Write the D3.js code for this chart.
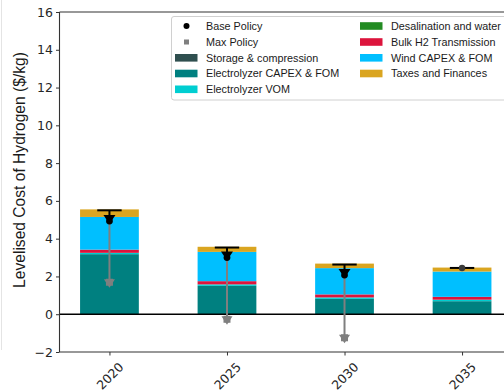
<!DOCTYPE html>
<html>
<head>
<meta charset="utf-8">
<script src="https://cdn.jsdelivr.net/npm/d3@7"></script>
<style>
  html, body { margin: 0; padding: 0; background: #fff; }
  svg { display: block; }
</style>
</head>
<body>
<svg id="chart" width="504" height="392"></svg>
<script>
// Years on the x axis
const years = ["2020", "2025", "2030", "2035"];

// Cost components ($/kg), stacked bottom to top
const storageCompression = [0, 0, 0, 0];
const electrolyzerCapex = [3.18, 1.50, 0.81, 0.69];
const electrolyzerVom = [0.07, 0.08, 0.08, 0.08];
const desalination = [0, 0, 0, 0];
const bulkTransmission = [0.17, 0.17, 0.16, 0.15];
const windCapex = [1.73, 1.55, 1.39, 1.34];
const taxesFinances = [0.40, 0.27, 0.24, 0.21];

// Policy scenarios ($/kg)
const baseUpper = [5.50, 3.53, 2.63, 2.45];
const basePolicy = [4.93, 3.00, 2.07, 2.45];
const maxPolicy = [1.64, -0.32, -1.30, 2.45];

const yTicks = [-2, 0, 2, 4, 6, 8, 10, 12, 14, 16];

const components = [
  { name: "Storage & compression", values: storageCompression, color: "#2f4f4f" },
  { name: "Electrolyzer CAPEX & FOM", values: electrolyzerCapex, color: "#008080" },
  { name: "Electrolyzer VOM", values: electrolyzerVom, color: "#00ced1" },
  { name: "Desalination and water", values: desalination, color: "#228b22" },
  { name: "Bulk H2 Transmission", values: bulkTransmission, color: "#dc143c" },
  { name: "Wind CAPEX & FOM", values: windCapex, color: "#00bfff" },
  { name: "Taxes and Finances", values: taxesFinances, color: "#daa520" }
];

const svg = d3.select("#chart");
const plotLeft = 59.5, plotTop = 12, plotBottom = 352;

const x = d3.scaleLinear().domain([-0.425, 3.425]).range([plotLeft, 512]);
const y = d3.scaleLinear().domain([-2, 16]).range([plotBottom, plotTop]);
const barHalf = 0.25;

// Faint frame line at the far left
svg.append("line").attr("x1", 1.5).attr("x2", 1.5).attr("y1", 0).attr("y2", 350)
  .attr("stroke", "#e4e4e4").attr("stroke-width", 1);

// Stacked bars
const table = years.map((yr, i) => {
  const row = { year: i };
  components.forEach(c => { row[c.name] = c.values[i]; });
  return row;
});
const stack = d3.stack().keys(components.map(c => c.name));
const series = stack(table);

const barsG = svg.append("g");
series.forEach((s, k) => {
  barsG.selectAll(null).data(s).enter().append("rect")
    .attr("x", d => x(d.data.year - barHalf))
    .attr("width", d => x(d.data.year + barHalf) - x(d.data.year - barHalf))
    .attr("y", d => y(d[1]))
    .attr("height", d => Math.max(0, y(d[0]) - y(d[1])))
    .attr("fill", components[k].color);
});

// Zero line
svg.append("line").attr("x1", plotLeft).attr("x2", 504).attr("y1", y(0)).attr("y2", y(0))
  .attr("stroke", "#000").attr("stroke-width", 1.5);

// Policy range markers
const pg = svg.append("g");
years.forEach((yr, i) => {
  const cx = x(i);
  const yb = y(basePolicy[i]);
  const ym = y(maxPolicy[i]);
  const yu = y(baseUpper[i]);
  // gray span from base down to max
  if (ym - yb > 0.5) {
    pg.append("line").attr("x1", cx).attr("x2", cx).attr("y1", yb).attr("y2", ym)
      .attr("stroke", "#7f7f7f").attr("stroke-width", 2);
    pg.append("rect").attr("x", cx - 3.5).attr("y", ym - 4.5).attr("width", 7).attr("height", 7)
      .attr("fill", "#7f7f7f");
    pg.append("path")
      .attr("d", `M${cx - 5.5},${ym - 4}L${cx + 5.5},${ym - 4}L${cx},${ym + 4.5}Z`)
      .attr("fill", "#7f7f7f");
  }
  // black span from upper value down to base
  pg.append("line").attr("x1", cx).attr("x2", cx).attr("y1", yu).attr("y2", yb)
    .attr("stroke", "#000").attr("stroke-width", 2);
  pg.append("line").attr("x1", cx - 12.2).attr("x2", cx + 12.2).attr("y1", yu).attr("y2", yu)
    .attr("stroke", "#000").attr("stroke-width", 2);
  if (yb - yu > 0.5) {
    pg.append("path")
      .attr("d", `M${cx - 6},${yb - 6}L${cx + 6},${yb - 6}L${cx},${yb + 3}Z`)
      .attr("fill", "#000");
    pg.append("circle").attr("cx", cx).attr("cy", yb).attr("r", 3.4).attr("fill", "#000");
  } else {
    pg.append("circle").attr("cx", cx).attr("cy", yb).attr("r", 3.2).attr("fill", "#3a3a3a");
  }
});

// Axes
const axisColor = "#333";
const yAxis = svg.append("g").attr("transform", `translate(${plotLeft},0)`)
  .call(d3.axisLeft(y).tickValues(yTicks).tickSize(3.5).tickPadding(3).tickFormat(d3.format("d")));
const xAxis = svg.append("g").attr("transform", `translate(0,${plotBottom})`)
  .call(d3.axisBottom(x).tickValues([0, 1, 2, 3]).tickSize(3.5).tickFormat(i => years[i]));
[yAxis, xAxis].forEach(g => {
  g.select(".domain").remove();
  g.selectAll(".tick line").attr("stroke", axisColor).attr("stroke-width", 1);
  g.selectAll(".tick text").attr("fill", "#262626")
    .style("font-family", "'DejaVu Sans', sans-serif").style("font-size", "12.5px");
});
xAxis.selectAll(".tick text")
  .attr("text-anchor", "middle").attr("dy", null).attr("y", 0)
  .attr("transform", "translate(0,24) rotate(-45)")
  .attr("dominant-baseline", "central");

// Spines
svg.append("line").attr("x1", plotLeft).attr("x2", plotLeft).attr("y1", plotTop).attr("y2", plotBottom)
  .attr("stroke", axisColor).attr("stroke-width", 1.1);
svg.append("line").attr("x1", plotLeft).attr("x2", 504).attr("y1", plotBottom).attr("y2", plotBottom)
  .attr("stroke", axisColor).attr("stroke-width", 1.1);
svg.append("line").attr("x1", plotLeft).attr("x2", 504).attr("y1", plotTop).attr("y2", plotTop)
  .attr("stroke", axisColor).attr("stroke-width", 1.1);

// Y axis title
svg.append("text")
  .attr("transform", `translate(25,170) rotate(-90)`)
  .attr("text-anchor", "middle")
  .style("font-family", "'Liberation Sans', Arial, sans-serif")
  .style("font-size", "15.6px")
  .attr("fill", "#1a1a1a")
  .text("Levelised Cost of Hydrogen ($/kg)");

// Legend
const legend = svg.append("g");
legend.append("rect").attr("x", 171.5).attr("y", 16.5).attr("width", 345).attr("height", 83.5)
  .attr("rx", 2.5).attr("fill", "#fff").attr("fill-opacity", 0.85)
  .attr("stroke", "#d0d0d0").attr("stroke-width", 1);

const legendItems = [
  { label: "Base Policy", kind: "circle", color: "#000" },
  { label: "Max Policy", kind: "square", color: "#7f7f7f" },
  ...components.map(c => ({ label: c.name, kind: "patch", color: c.color }))
];
const rowY = [26, 42, 57.8, 73.5, 89.3];
const cols = [{ hx: 175, tx: 206 }, { hx: 360, tx: 391 }];
legendItems.forEach((it, i) => {
  const col = i < 5 ? cols[0] : cols[1];
  const cy = rowY[i < 5 ? i : i - 5];
  if (it.kind === "circle") {
    legend.append("circle").attr("cx", col.hx + 11.5).attr("cy", cy).attr("r", 3).attr("fill", it.color);
  } else if (it.kind === "square") {
    legend.append("rect").attr("x", col.hx + 9).attr("y", cy - 2.5).attr("width", 5).attr("height", 5).attr("fill", it.color);
  } else {
    legend.append("rect").attr("x", col.hx).attr("y", cy - 3.8).attr("width", 22.5).attr("height", 7.6).attr("fill", it.color);
  }
  legend.append("text").attr("x", col.tx).attr("y", cy).attr("dy", "0.36em")
    .style("font-family", "'Liberation Sans', Arial, sans-serif").style("font-size", "10.8px")
    .attr("fill", "#1a1a1a").text(it.label);
});
</script>
</body>
</html>
